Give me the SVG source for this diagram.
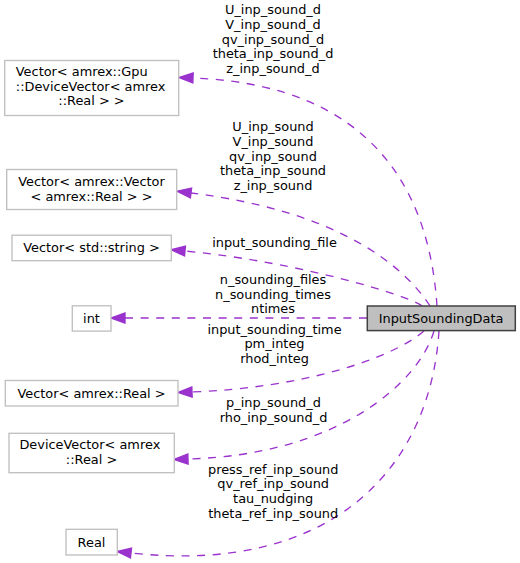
<svg xmlns="http://www.w3.org/2000/svg" width="520" height="563" viewBox="0 0 520 563">
<style>
text{font-family:"DejaVu Sans","Liberation Sans",sans-serif;font-size:12.9px;fill:#000}
.n{fill:#fff;stroke:#bfbfbf;stroke-width:1.33}
.m{fill:#bfbfbf;stroke:#404040;stroke-width:1.5}
.c{text-anchor:middle}
.e{fill:none;stroke:#9a32cd;stroke-width:1.33;stroke-dasharray:8,7.6;marker-end:url(#ah)}
</style>
<defs>
<marker id="ah" markerUnits="userSpaceOnUse" orient="auto" refX="0" refY="0" markerWidth="20" markerHeight="20" viewBox="-2 -10 20 20" overflow="visible">
<path d="M0,-5 L14,0 L0,5 Z" fill="#9a32cd" stroke="#9a32cd" stroke-width="1.33"/>
</marker>
</defs>
<rect width="520" height="563" fill="#fff"/>
<g id="connectors">
<path class="e" d="M437,306 C430,200 380,85 193,78"/>
<path class="e" d="M430,306 C400,260 330,210 191,193"/>
<path class="e" d="M422,306 C410,296 300,262 185,251"/>
<path class="e" d="M367,318 L125,318"/>
<path class="e" d="M424,331 C390,360 300,388 192,392"/>
<path class="e" d="M434,331 C418,385 335,455 188,459"/>
<path class="e" d="M439,331 C430,470 330,575 131,553"/>
</g>
<g id="edge-labels">
<text class="c" x="273" y="14.3">U_inp_sound_d</text>
<text class="c" x="273" y="29">V_inp_sound_d</text>
<text class="c" x="273" y="43.6">qv_inp_sound_d</text>
<text class="c" x="273" y="58.3">theta_inp_sound_d</text>
<text class="c" x="273" y="73">z_inp_sound_d</text>
<text class="c" x="273" y="131.3">U_inp_sound</text>
<text class="c" x="273" y="146">V_inp_sound</text>
<text class="c" x="273" y="160.7">qv_inp_sound</text>
<text class="c" x="273" y="175.3">theta_inp_sound</text>
<text class="c" x="273" y="190">z_inp_sound</text>
<text class="c" x="274.5" y="247">input_sounding_file</text>
<text class="c" x="273" y="284">n_sounding_files</text>
<text class="c" x="273" y="298.7">n_sounding_times</text>
<text class="c" x="273" y="313.3">ntimes</text>
<text class="c" x="274.5" y="333.7">input_sounding_time</text>
<text class="c" x="274.5" y="348.3">pm_integ</text>
<text class="c" x="274.5" y="363">rhod_integ</text>
<text class="c" x="273.5" y="407">p_inp_sound_d</text>
<text class="c" x="273.5" y="421.6">rho_inp_sound_d</text>
<text class="c" x="273.2" y="473.7">press_ref_inp_sound</text>
<text class="c" x="273.2" y="488.3">qv_ref_inp_sound</text>
<text class="c" x="273.2" y="503">tau_nudging</text>
<text class="c" x="273.2" y="517.6">theta_ref_inp_sound</text>
</g>
<g id="InputSoundingData">
<rect class="m" x="367.3" y="306" width="148" height="24.6"/>
<text class="c" x="441" y="322.5">InputSoundingData</text>
</g>
<g id="VectorGpuDeviceVector">
<rect class="n" x="4.7" y="60.5" width="174" height="55"/>
<text x="15.8" y="76">Vector&lt; amrex::Gpu</text>
<text x="15.8" y="90.7">::DeviceVector&lt; amrex</text>
<text class="c" x="91.5" y="105.4">::Real &gt; &gt;</text>
</g>
<g id="VectorVector">
<rect class="n" x="6.7" y="169.5" width="170" height="40"/>
<text x="18.2" y="186">Vector&lt; amrex::Vector</text>
<text class="c" x="91.5" y="200.6">&lt; amrex::Real &gt; &gt;</text>
</g>
<g id="VectorString">
<rect class="n" x="12" y="235.2" width="159.3" height="25.5"/>
<text class="c" x="91.5" y="251.5">Vector&lt; std::string &gt;</text>
</g>
<g id="int">
<rect class="n" x="72.3" y="305.8" width="38.7" height="25.3"/>
<text class="c" x="91.5" y="322.6">int</text>
</g>
<g id="VectorReal">
<rect class="n" x="5.3" y="380.5" width="172.7" height="25.5"/>
<text class="c" x="91.5" y="397.5">Vector&lt; amrex::Real &gt;</text>
</g>
<g id="DeviceVectorReal">
<rect class="n" x="9" y="433.3" width="165.3" height="39.4"/>
<text x="19.4" y="449.3">DeviceVector&lt; amrex</text>
<text class="c" x="91.5" y="464">::Real &gt;</text>
</g>
<g id="Real">
<rect class="n" x="66" y="529.3" width="51.3" height="25.7"/>
<text class="c" x="91.5" y="546.5">Real</text>
</g>
</svg>
